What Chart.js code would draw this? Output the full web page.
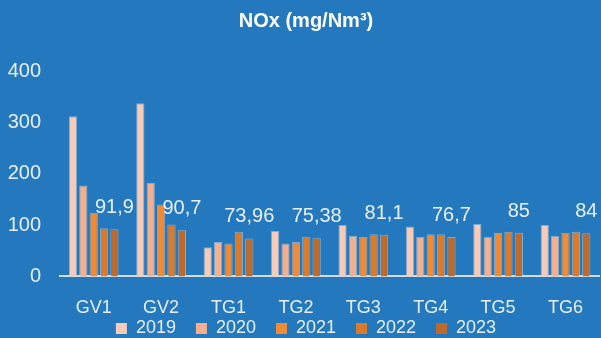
<!DOCTYPE html>
<html>
<head>
<meta charset="utf-8">
<script src="https://cdn.jsdelivr.net/npm/chart.js@4/dist/chart.umd.min.js"></script>
<style>
  html, body { margin: 0; padding: 0; background: #2479be; overflow: hidden; }
  #wrap { position: absolute; left: 0; top: 0; width: 604px; height: 338px; }
</style>
</head>
<body>
<div id="wrap"><canvas id="noxChart" width="604" height="338"></canvas></div>
<script>
const categories = ['GV1', 'GV2', 'TG1', 'TG2', 'TG3', 'TG4', 'TG5', 'TG6'];
const years = ['2019', '2020', '2021', '2022', '2023'];

const nox2019 = [312, 337, 57, 89, 100, 97, 102, 100];
const nox2020 = [177, 182, 67, 64, 79, 77, 77, 79];
const nox2021 = [124, 140, 64, 67, 77, 82, 85, 85];
const nox2022 = [94, 101, 87, 77, 82, 82, 87, 87];
const nox2023 = [91.9, 90.7, 73.96, 75.38, 81.1, 76.7, 85, 84];

const yTicks = [0, 100, 200, 300, 400];

const barColors = ['#f8cbb8', '#f4af8e', '#f08a34', '#db7a2b', '#be6a2b'];
const textColor = '#e8eef5';
const fontFamily = '"Liberation Sans", Arial, sans-serif';

const series = [nox2019, nox2020, nox2021, nox2022, nox2023];

// labels over the 2023 bars, decimal comma like the original
const lastBarLabels = {
  id: 'lastBarLabels',
  afterDatasetsDraw(chart) {
    const ctx = chart.ctx;
    const last = chart.data.datasets.length - 1;
    const meta = chart.getDatasetMeta(last);
    ctx.save();
    ctx.fillStyle = textColor;
    ctx.font = '20px ' + fontFamily;
    ctx.textAlign = 'center';
    ctx.textBaseline = 'alphabetic';
    meta.data.forEach(function(bar, i) {
      const value = chart.data.datasets[last].data[i];
      ctx.fillText(String(value).replace('.', ','), bar.x, bar.y - 16);
    });
    ctx.restore();
  }
};

// pull the legend up so it sits right under the category labels
const legendUp = {
  id: 'legendUp',
  afterLayout(chart) {
    const legend = chart.legend;
    const h = legend.bottom - legend.top;
    legend.top = chart.chartArea.bottom + 23;
    legend.bottom = legend.top + h;
  }
};

const ctx = document.getElementById('noxChart').getContext('2d');
const noxChart = new Chart(ctx, {
  type: 'bar',
  data: {
    labels: categories,
    datasets: series.map(function(values, i) {
      return {
        label: years[i],
        data: values,
        backgroundColor: barColors[i],
        borderColor: 'rgba(200, 215, 230, 0.55)',
        borderWidth: 1,
        categoryPercentage: 0.77,
        barPercentage: 0.8
      };
    })
  },
  options: {
    responsive: false,
    animation: false,
    layout: { padding: { left: 8, right: 0, top: 0, bottom: -50 } },
    plugins: {
      title: {
        display: true,
        text: 'NOx (mg/Nm³)',
        color: '#ffffff',
        font: { family: fontFamily, size: 20, weight: 'bold' },
        padding: { top: 9, bottom: 38 }
      },
      legend: {
        position: 'bottom',
        labels: {
          color: textColor,
          font: { family: fontFamily, size: 18 },
          boxWidth: 11,
          boxHeight: 11,
          padding: 20,
          generateLabels: function(chart) {
            return Chart.defaults.plugins.legend.labels.generateLabels(chart).map(function(l) {
              l.lineWidth = 0;
              return l;
            });
          }
        }
      },
      tooltip: { enabled: false }
    },
    scales: {
      x: {
        grid: { display: false, drawTicks: false },
        border: { display: true, color: '#d9d9d9', width: 2 },
        ticks: {
          color: textColor,
          font: { family: fontFamily, size: 18 },
          padding: 21,
          maxRotation: 0
        }
      },
      y: {
        min: 0,
        max: 400,
        grid: { display: false, drawTicks: false },
        border: { display: false },
        afterBuildTicks: function(axis) {
          axis.ticks = yTicks.map(function(v) { return { value: v }; });
        },
        afterFit: function(scale) {
          scale.width = 52;
        },
        ticks: {
          color: textColor,
          font: { family: fontFamily, size: 20 },
          padding: 19
        }
      }
    }
  },
  plugins: [lastBarLabels, legendUp]
});
</script>
</body>
</html>
